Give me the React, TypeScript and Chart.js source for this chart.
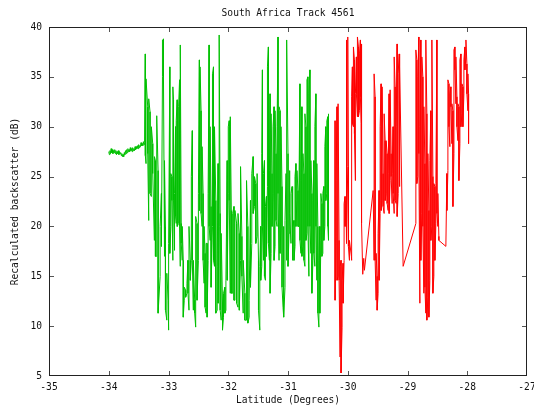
import React, { useEffect, useRef } from "react";
import { Chart, registerables } from "chart.js";

Chart.register(...registerables);

const TITLE = "South Africa Track 4561";
const X_TITLE = "Latitude (Degrees)";
const Y_TITLE = "Recalculated backscatter (dB)";

const xTicks = [-35, -34, -33, -32, -31, -30, -29, -28, -27];
const yTicks = [5, 10, 15, 20, 25, 30, 35, 40];

// Calm stretch at the start of the green pass (one sample per point)
const approachLat = [
  -34.0, -33.99, -33.98, -33.97, -33.96, -33.95, -33.94, -33.93, -33.92, -33.91,
  -33.9, -33.89, -33.88, -33.87, -33.86, -33.85, -33.84, -33.83, -33.82, -33.81,
  -33.8, -33.79, -33.78, -33.77, -33.76, -33.75, -33.74, -33.73, -33.72, -33.71,
  -33.7, -33.69, -33.68, -33.67, -33.66, -33.65, -33.64, -33.63, -33.62, -33.61,
  -33.6, -33.59, -33.58, -33.57, -33.56, -33.55, -33.54, -33.53, -33.52, -33.51,
  -33.5, -33.49, -33.48, -33.47, -33.46, -33.45, -33.44, -33.43, -33.42, -33.41,
  -33.4,
];
const approachDb = [
  27.5, 27.2, 27.6, 27.3, 27.8, 27.4, 27.7, 27.3, 27.6, 27.4,
  27.7, 27.3, 27.6, 27.2, 27.5, 27.3, 27.6, 27.2, 27.5, 27.3,
  27.4, 27.1, 27.3, 27.0, 27.2, 27.0, 27.4, 27.2, 27.6, 27.3,
  27.7, 27.4, 27.8, 27.5, 27.7, 27.5, 27.9, 27.6, 27.8, 27.5,
  27.9, 27.6, 27.8, 27.6, 28.0, 27.7, 28.0, 27.8, 28.1, 27.8,
  28.2, 27.9, 28.1, 28.0, 28.4, 28.1, 28.3, 28.1, 28.5, 28.2,
  28.4,
];

// Green pass: highest and lowest return in each latitude bin
const greenLat = [
  -33.388, -33.376, -33.348, -33.331, -33.309, -33.287, -33.264, -33.236, -33.219, -33.197,
  -33.174, -33.14, -33.118, -33.101, -33.084, -33.067, -33.051, -33.028, -33.006, -32.994,
  -32.978, -32.961, -32.944, -32.927, -32.916, -32.899, -32.882, -32.871, -32.854, -32.831,
  -32.815, -32.803, -32.787, -32.77, -32.753, -32.736, -32.713, -32.691, -32.674, -32.657,
  -32.635, -32.618, -32.601, -32.584, -32.562, -32.545, -32.522, -32.5, -32.483, -32.472,
  -32.455, -32.438, -32.421, -32.404, -32.388, -32.371, -32.354, -32.337, -32.32, -32.303,
  -32.287, -32.264, -32.247, -32.23, -32.208, -32.185, -32.169, -32.152, -32.135, -32.118,
  -32.096, -32.079, -32.056, -32.039, -32.017, -32.0, -31.983, -31.966, -31.949, -31.927,
  -31.904, -31.888, -31.86, -31.837, -31.815,
  -31.794, -31.772, -31.75, -31.722, -31.694, -31.672, -31.65, -31.628, -31.606, -31.583,
  -31.561, -31.539, -31.517, -31.494, -31.472, -31.456, -31.439, -31.428, -31.411, -31.394,
  -31.378, -31.361, -31.344, -31.328, -31.311, -31.3, -31.283, -31.267, -31.25, -31.233,
  -31.217, -31.2, -31.183, -31.167, -31.15, -31.133, -31.117, -31.1, -31.083, -31.067,
  -31.05, -31.033, -31.017, -31.0, -30.983, -30.967, -30.95, -30.933, -30.917, -30.9,
  -30.883, -30.867, -30.85, -30.833, -30.817, -30.8, -30.783, -30.767, -30.75, -30.733,
  -30.717, -30.7, -30.683, -30.667, -30.65, -30.633, -30.617, -30.6, -30.583, -30.567,
  -30.55, -30.533, -30.517, -30.5, -30.483, -30.467, -30.45, -30.433, -30.417, -30.4,
  -30.383, -30.367, -30.35, -30.333, -30.322,
];
const greenHigh = [
  37.3, 34.8, 32.0, 32.8, 31.5, 30.0, 28.3, 27.0, 26.6, 31.1,
  25.6, 20.0, 23.3, 38.7, 38.8, 26.6, 20.0, 15.3, 12.6, 18.3,
  36.0, 25.3, 25.0, 34.0, 32.7, 23.3, 30.0, 30.6, 32.7, 32.0,
  34.7, 38.2, 20.3, 20.0, 16.6, 13.9, 13.6, 14.3, 16.6, 20.0,
  16.6, 25.0, 29.6, 16.6, 12.6, 21.0, 20.3, 23.3, 36.7, 36.0,
  31.6, 28.0, 23.3, 20.0, 17.3, 18.3, 18.3, 23.3, 38.2, 30.0,
  22.0, 35.3, 36.0, 30.0, 22.6, 16.0, 26.3, 39.2, 21.3, 19.3,
  12.3, 13.3, 13.9, 14.6, 26.6, 30.0, 30.6, 31.0, 21.6, 21.3,
  22.0, 21.6, 20.3, 21.3, 19.3,
  26.0, 19.0, 16.6, 13.3, 24.6, 20.0, 12.6, 22.6, 25.3, 27.0,
  25.0, 24.3, 25.3, 16.6, 16.0, 20.0, 27.3, 35.7, 25.3, 26.6,
  22.0, 23.0, 36.0, 38.0, 25.6, 33.3, 31.3, 25.3, 30.0, 32.0,
  31.6, 27.3, 30.0, 39.0, 32.0, 31.6, 30.0, 24.0, 20.0, 16.6,
  20.6, 25.3, 38.7, 27.3, 25.6, 25.0, 23.3, 24.0, 20.0, 20.6,
  25.0, 26.3, 25.6, 23.6, 23.3, 34.3, 24.6, 32.0, 27.3, 25.3,
  31.3, 30.0, 34.7, 35.0, 33.3, 35.7, 26.6, 23.3, 22.6, 26.6,
  30.0, 33.3, 26.3, 20.0, 16.6, 20.0, 23.3, 22.3, 23.3, 24.0,
  28.0, 30.0, 30.6, 31.0, 31.3,
];
const greenLow = [
  27.1, 26.3, 27.3, 20.6, 23.3, 23.0, 25.3, 18.6, 17.0, 17.0,
  11.3, 15.0, 18.0, 35.0, 35.0, 17.0, 11.6, 10.6, 9.6, 11.3,
  17.3, 20.0, 22.6, 16.6, 22.6, 17.6, 21.0, 20.3, 20.0, 20.3,
  20.0, 16.0, 18.3, 16.6, 10.9, 12.6, 12.9, 13.3, 13.3, 11.6,
  14.6, 16.6, 16.6, 11.6, 11.3, 9.9, 12.6, 16.6, 21.6, 26.6,
  21.3, 20.0, 16.6, 14.3, 11.9, 11.3, 10.9, 16.6, 20.0, 18.6,
  13.9, 20.0, 16.6, 16.0, 11.3, 11.6, 12.3, 20.0, 11.6, 10.6,
  9.6, 10.9, 11.3, 11.6, 14.6, 23.3, 22.6, 13.3, 13.3, 13.3,
  12.6, 12.6, 12.3, 11.9, 11.6,
  16.6, 15.0, 11.3, 10.6, 10.6, 10.3, 10.9, 13.9, 18.3, 21.3,
  22.0, 18.3, 19.0, 11.6, 9.6, 14.6, 16.0, 20.0, 16.6, 15.0,
  14.6, 17.0, 24.0, 18.3, 16.6, 13.3, 17.3, 20.0, 23.3, 16.6,
  18.0, 20.6, 20.0, 23.3, 16.6, 17.3, 20.0, 13.9, 11.9, 10.9,
  13.9, 16.6, 20.0, 16.0, 19.3, 21.3, 18.3, 20.0, 16.6, 16.6,
  18.0, 20.0, 22.6, 20.0, 20.0, 18.6, 17.3, 17.0, 18.0, 16.6,
  16.0, 18.6, 19.3, 20.0, 15.0, 20.0, 17.3, 13.3, 16.6, 17.3,
  16.0, 20.0, 14.6, 11.3, 9.9, 11.3, 18.6, 17.0, 17.3, 18.6,
  20.0, 22.6, 23.3, 20.0, 18.6,
];

// Red pass: highest and lowest return in each latitude bin
const redLat = [
  -30.212, -30.196, -30.179, -30.162, -30.145, -30.128, -30.112, -30.095, -30.078, -30.061,
  -30.045, -30.028, -30.017, -30.0, -29.989, -29.972, -29.939, -29.933, -29.922, -29.905,
  -29.888, -29.872, -29.855, -29.838, -29.821, -29.804, -29.788, -29.777, -29.765, -29.749,
  -29.732, -29.721, -29.575, -29.559, -29.542, -29.525, -29.508, -29.492, -29.475, -29.458,
  -29.441, -29.425, -29.408, -29.391, -29.374, -29.358, -29.341, -29.324, -29.307, -29.291,
  -29.274, -29.257, -29.24, -29.223, -29.207, -29.19, -29.173, -29.156, -29.14, -29.128,
  -29.073, -28.86, -28.844, -28.827, -28.81, -28.793, -28.777, -28.76, -28.743, -28.726,
  -28.709, -28.693, -28.676, -28.659, -28.642, -28.626, -28.609, -28.592, -28.575, -28.559,
  -28.542, -28.525, -28.508, -28.492, -28.475, -28.358, -28.341, -28.324, -28.307, -28.291,
  -28.274, -28.257, -28.24, -28.223, -28.207, -28.19, -28.173, -28.156, -28.14, -28.123,
  -28.106, -28.089, -28.073, -28.056, -28.039, -28.022, -28.006, -27.989, -27.978,
];
const redHigh = [
  30.6, 24.6, 32.0, 32.3, 18.6, 16.0, 16.6, 14.6, 16.3, 22.3,
  23.0, 30.0, 38.7, 39.0, 26.0, 18.6, 17.0, 33.0, 36.0, 38.0,
  36.7, 33.3, 37.0, 39.0, 38.0, 37.3, 38.7, 38.3, 20.3, 15.2,
  16.8, 15.6, 23.6, 35.3, 33.0, 17.3, 15.0, 19.3, 23.6, 30.0,
  34.3, 34.0, 25.3, 31.3, 28.6, 28.6, 27.3, 25.3, 33.3, 33.7,
  27.3, 25.3, 30.0, 37.0, 34.0, 30.0, 38.3, 35.3, 37.3, 36.0,
  16.0, 37.7, 36.7, 35.0, 39.0, 30.0, 38.7, 37.0, 35.0, 32.0,
  26.3, 38.7, 31.3, 27.3, 21.6, 26.6, 31.6, 38.7, 25.0, 24.3,
  24.0, 24.3, 38.7, 23.3, 19.0, 18.0, 25.3, 34.7, 34.3, 33.3,
  34.0, 32.3, 31.6, 37.7, 38.0, 37.0, 33.0, 32.3, 32.0, 36.7,
  37.3, 34.3, 34.0, 36.7, 38.0, 38.7, 36.3, 35.3, 33.3,
];
const redLow = [
  12.6, 19.0, 14.6, 15.0, 14.6, 6.9, 5.3, 9.9, 12.3, 16.6,
  20.0, 22.6, 18.3, 26.0, 18.0, 16.6, 16.6, 16.6, 30.3, 30.0,
  29.3, 24.6, 33.3, 31.0, 31.0, 31.6, 33.0, 30.3, 20.3, 15.2,
  16.8, 15.6, 23.6, 16.6, 16.6, 12.6, 11.6, 13.3, 14.6, 21.3,
  21.6, 22.6, 22.0, 21.3, 22.6, 23.3, 22.3, 21.6, 21.3, 24.6,
  25.0, 22.3, 23.3, 21.3, 22.6, 22.3, 21.0, 23.3, 24.0, 25.3,
  16.0, 20.3, 24.3, 25.0, 27.3, 12.3, 16.6, 21.3, 20.0, 13.3,
  13.9, 11.3, 10.6, 12.9, 10.9, 14.6, 18.6, 20.0, 13.3, 15.0,
  16.6, 20.3, 21.3, 20.0, 18.6, 18.0, 21.6, 25.6, 30.0, 28.0,
  32.0, 28.3, 22.0, 27.3, 35.7, 32.3, 30.0, 28.6, 24.6, 28.3,
  30.0, 31.3, 30.0, 33.3, 35.7, 37.0, 33.3, 31.6, 28.3,
];

type Pt = { x: number; y: number };

// Each bin becomes a vertical stroke; the stroke direction alternates
// so consecutive bins join high-to-high or low-to-low.
function binPoints(lat: number[], high: number[], low: number[]): Pt[] {
  const pts: Pt[] = [];
  lat.forEach((x, i) => {
    if (i % 2 === 0) {
      pts.push({ x, y: high[i] }, { x, y: low[i] });
    } else {
      pts.push({ x, y: low[i] }, { x, y: high[i] });
    }
  });
  return pts;
}

const FONT_FAMILY = "'DejaVu Sans Mono', 'Liberation Mono', monospace";
const FONT_SIZE = 9.6;
const TEXT_COLOR = "#111";

const framePlugin = {
  id: "gnuplotFrame",
  afterDraw(chart: Chart) {
    const { ctx, chartArea } = chart;
    const { left, right, top, bottom } = chartArea;
    const xs = chart.scales.x;
    const ys = chart.scales.y;
    ctx.save();

    // inward tick marks on all four sides
    ctx.strokeStyle = "#555";
    ctx.lineWidth = 1;
    const tick = 5;
    ctx.beginPath();
    xTicks.forEach((v) => {
      const px = Math.round(xs.getPixelForValue(v)) + 0.5;
      if (px <= left + 1 || px >= right - 1) return;
      ctx.moveTo(px, bottom);
      ctx.lineTo(px, bottom - tick);
      ctx.moveTo(px, top);
      ctx.lineTo(px, top + tick);
    });
    yTicks.forEach((v) => {
      const py = Math.round(ys.getPixelForValue(v)) + 0.5;
      if (py <= top + 1 || py >= bottom - 1) return;
      ctx.moveTo(left, py);
      ctx.lineTo(left + tick, py);
      ctx.moveTo(right, py);
      ctx.lineTo(right - tick, py);
    });
    ctx.stroke();

    // border
    ctx.strokeStyle = "#222";
    ctx.strokeRect(Math.round(left) + 0.5, Math.round(top) + 0.5, Math.round(right - left) - 1, Math.round(bottom - top) - 1);

    // titles
    ctx.fillStyle = TEXT_COLOR;
    ctx.font = `${FONT_SIZE}px ${FONT_FAMILY}`;
    ctx.textAlign = "center";
    ctx.textBaseline = "middle";
    const cx = (left + right) / 2;
    ctx.fillText(TITLE, cx, 13.5);
    ctx.fillText(X_TITLE, cx, 400);
    ctx.translate(15, (top + bottom) / 2);
    ctx.rotate(-Math.PI / 2);
    ctx.fillText(Y_TITLE, 0, 0);
    ctx.restore();
  },
};

export default function App() {
  const canvasRef = useRef<HTMLCanvasElement | null>(null);

  useEffect(() => {
    document.body.style.margin = "0";
    const canvas = canvasRef.current;
    if (!canvas) return;

    const greenPoints: Pt[] = [
      ...approachLat.map((x, i) => ({ x, y: approachDb[i] })),
      ...binPoints(greenLat, greenHigh, greenLow),
    ];
    const redPoints = binPoints(redLat, redHigh, redLow);

    const tickFont = { family: FONT_FAMILY, size: FONT_SIZE };

    const chart = new Chart(canvas, {
      type: "scatter",
      data: {
        datasets: [
          {
            data: greenPoints,
            showLine: true,
            borderColor: "#00c000",
            backgroundColor: "#00c000",
            borderWidth: 1,
            pointRadius: 0,
            tension: 0,
          },
          {
            data: redPoints,
            showLine: true,
            borderColor: "#ff0000",
            backgroundColor: "#ff0000",
            borderWidth: 1,
            pointRadius: 0,
            tension: 0,
          },
        ],
      },
      options: {
        animation: false,
        responsive: false,
        devicePixelRatio: 1,
        layout: { padding: { top: 27, right: 7, left: 0, bottom: 0 } },
        plugins: {
          legend: { display: false },
          tooltip: { enabled: false },
          title: { display: false },
        },
        scales: {
          x: {
            type: "linear",
            min: -35,
            max: -27,
            grid: { display: false, drawTicks: false },
            border: { display: false },
            afterBuildTicks: (scale: any) => {
              scale.ticks = xTicks.map((value) => ({ value }));
            },
            afterFit: (scale: any) => {
              scale.height = 31;
              scale.paddingLeft = 0;
              scale.paddingRight = 0;
            },
            ticks: {
              font: tickFont,
              color: TEXT_COLOR,
              padding: 6,
              autoSkip: false,
              maxRotation: 0,
              callback: (v: any) => String(v),
            },
          },
          y: {
            type: "linear",
            min: 5,
            max: 40,
            grid: { display: false, drawTicks: false },
            border: { display: false },
            afterBuildTicks: (scale: any) => {
              scale.ticks = yTicks.map((value) => ({ value }));
            },
            afterFit: (scale: any) => {
              scale.width = 49;
              scale.paddingTop = 0;
              scale.paddingBottom = 0;
            },
            ticks: {
              font: tickFont,
              color: TEXT_COLOR,
              padding: 7,
              autoSkip: false,
              callback: (v: any) => String(v),
            },
          },
        },
      },
      plugins: [framePlugin],
    });

    return () => chart.destroy();
  }, []);

  return (
    <div style={{ position: "absolute", left: 0, top: 0, width: 534, height: 407, background: "#fff" }}>
      <canvas ref={canvasRef} width={534} height={407} style={{ display: "block" }} />
    </div>
  );
}
